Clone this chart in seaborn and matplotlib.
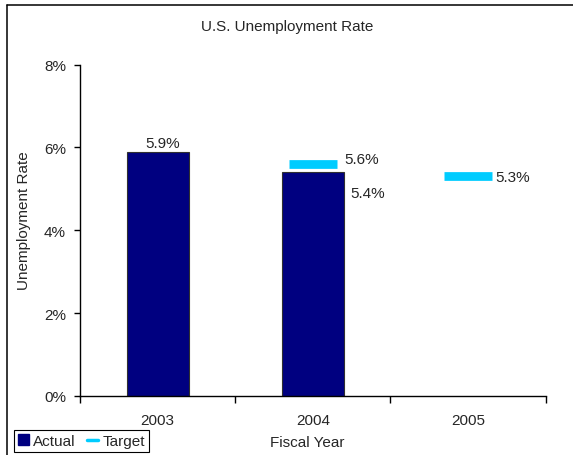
import numpy as np
import pandas as pd
import matplotlib
matplotlib.use("Agg")
import matplotlib.pyplot as plt
from matplotlib.lines import Line2D
from matplotlib.patches import Patch
import seaborn as sns

# Fiscal years and unemployment rates (%)
years = ["2003", "2004", "2005"]
actual = [5.9, 5.4, np.nan]
target = [np.nan, 5.6, 5.3]
y_ticks = [0, 2, 4, 6, 8]

ACTUAL_COLOR = "#000080"
TARGET_COLOR = "#00CCFF"
FS = 11

sns.set_style("white")
plt.rcParams["font.family"] = ["Liberation Sans", "DejaVu Sans"]
plt.rcParams["font.size"] = FS

df = pd.DataFrame({"year": years, "actual": actual, "target": target})

fig = plt.figure(figsize=(5.73, 4.56), dpi=100)
ax = fig.add_axes([80 / 573, 1 - 397 / 456, (545.7 - 80) / 573, (397 - 65.5) / 456])

sns.barplot(data=df, x="year", y="actual", order=years, color=ACTUAL_COLOR,
            saturation=1, width=0.4, edgecolor="#303030", linewidth=0.8, ax=ax)

# Target levels drawn as short horizontal dashes centred on each category
for i, val in enumerate(target):
    if np.isnan(val):
        continue
    ax.hlines(val, i - 0.153, i + 0.153, color=TARGET_COLOR, linewidth=6.3, zorder=3)

# Value labels
for i, val in enumerate(actual):
    if np.isnan(val):
        continue
    if np.isnan(target[i]):
        ax.annotate(f"{val:.1f}%", (i, val), xytext=(5, 9), textcoords="offset pixels",
                    ha="center", va="center", fontsize=FS)
    else:
        ax.annotate(f"{val:.1f}%", (i + 0.2, val), xytext=(6, -20.5), textcoords="offset pixels",
                    ha="left", va="center", fontsize=FS)
for i, val in enumerate(target):
    if np.isnan(val):
        continue
    dy = 5 if not np.isnan(actual[i]) else -0.5
    dx = 8 if not np.isnan(actual[i]) else 4
    ax.annotate(f"{val:.1f}%", (i + 0.153, val), xytext=(dx, dy), textcoords="offset pixels",
                ha="left", va="center", fontsize=FS)

ax.set_xlim(-0.5, 2.5)
ax.set_ylim(0, 8)
ax.set_yticks(y_ticks)
ax.set_yticklabels([f"{t}%" for t in y_ticks])
ax.set_xticks(range(len(years)))
ax.set_xticklabels(years)
ax.set_xticks([-0.5, 0.5, 1.5, 2.5], minor=True)
ax.tick_params(axis="x", which="major", length=0, pad=12.5, labelsize=FS)
ax.tick_params(axis="x", which="minor", length=5, width=1, direction="out", color="black", bottom=True)
ax.tick_params(axis="y", length=4, width=1, direction="out", color="black", left=True, pad=6, labelsize=FS)
ax.set_xlabel("")
ax.set_ylabel("")

for side in ["top", "right"]:
    ax.spines[side].set_visible(False)
for side in ["left", "bottom"]:
    ax.spines[side].set_color("black")
    ax.spines[side].set_linewidth(1)

fig.text(287 / 573, 1 - 27 / 456, "U.S. Unemployment Rate", ha="center", va="center", fontsize=FS)
fig.text(24 / 573, 1 - 220.5 / 456, "Unemployment Rate", rotation=90, ha="center", va="center", fontsize=FS)
fig.text(307 / 573, 1 - 443 / 456, "Fiscal Year", ha="center", va="center", fontsize=FS)

handles = [Patch(facecolor=ACTUAL_COLOR, edgecolor=ACTUAL_COLOR),
           Line2D([0], [0], color=TARGET_COLOR, linewidth=2.5)]
leg = fig.legend(handles, ["Actual", "Target"], loc="lower left",
                 bbox_to_anchor=(14 / 573, 1 - 453 / 456), ncol=2, frameon=True,
                 fancybox=False, framealpha=1, edgecolor="black", borderaxespad=0,
                 borderpad=0.25, handlelength=0.72, handleheight=0.72, handletextpad=0.25,
                 columnspacing=0.8, fontsize=FS)
leg.get_frame().set_linewidth(0.8)

# Outer chart-area border (left and top edges)
fig.add_artist(Line2D([6.5 / 573, 6.5 / 573], [0, 1 - 6 / 456], color="black", linewidth=1.1))
fig.add_artist(Line2D([6.5 / 573, 1], [1 - 6 / 456, 1 - 6 / 456], color="black", linewidth=1.1))

fig.savefig("out.png", dpi=100)
